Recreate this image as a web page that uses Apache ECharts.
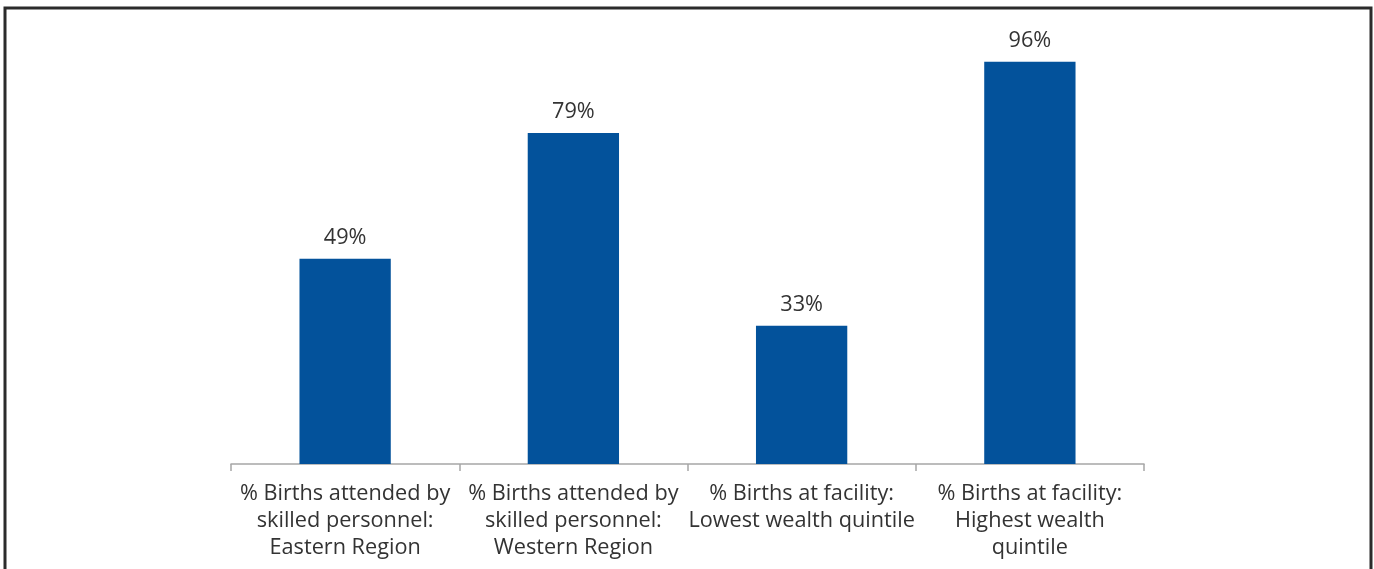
<!DOCTYPE html>
<html><head><meta charset="utf-8">
<script src="https://cdn.jsdelivr.net/npm/echarts@6/dist/echarts.min.js"></script>
<style>html,body{margin:0;padding:0;background:#fff}#c{width:1374px;height:569px}</style>
</head><body><div id="c"></div>
<script>
const categories = [
  "% Births attended by\nskilled personnel:\nEastern Region",
  "% Births attended by\nskilled personnel:\nWestern Region",
  "% Births at facility:\nLowest wealth quintile",
  "% Births at facility:\nHighest wealth\nquintile"
];
const values = [49, 79, 33, 96];

const chart = echarts.init(document.getElementById('c'));
chart.setOption({
  animation: false,
  textStyle: {fontFamily: 'Open Sans'},
  graphic: [{
    type: 'rect',
    shape: {x: 5, y: 8, width: 1366, height: 600},
    style: {fill: 'none', stroke: '#2b2b2b', lineWidth: 3}
  }],
  grid: {left: 231, right: 230, top: 45, bottom: 105},
  xAxis: {
    type: 'category', data: categories,
    axisLine: {lineStyle: {color: '#a6a6a6', width: 1.5}},
    axisTick: {show: true, interval: 0, length: 7, lineStyle: {color: '#a6a6a6', width: 1.5}},
    axisLabel: {interval: 0, color: '#333', fontSize: 21.7, lineHeight: 27, margin: 16, fontFamily: 'Open Sans'}
  },
  yAxis: {type: 'value', min: 0, max: 100, show: false, splitLine: {show: false}},
  series: [{
    type: 'bar', data: values, barWidth: '40%',
    itemStyle: {color: '#03529b'},
    label: {show: true, position: 'top', distance: 10, formatter: '{c}%', color: '#333', fontSize: 21.7, fontFamily: 'Open Sans'}
  }]
});
</script></body></html>
